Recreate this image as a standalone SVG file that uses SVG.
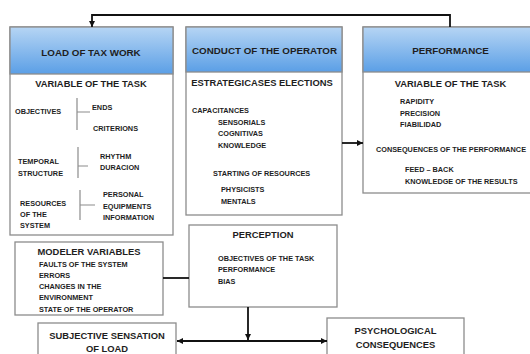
<svg xmlns="http://www.w3.org/2000/svg" width="530" height="354" viewBox="0 0 530 354">
<defs>
<linearGradient id="hdr" x1="0" y1="0" x2="0" y2="1">
<stop offset="0" stop-color="#b6d5f4"/>
<stop offset="1" stop-color="#5b9fe6"/>
</linearGradient>
<marker id="arr" viewBox="0 0 10 10" refX="10" refY="5" markerWidth="7" markerHeight="6" markerUnits="userSpaceOnUse" orient="auto">
<path d="M0,0 L10,5 L0,10 z" fill="#111"/>
</marker>
</defs>
<style>
.box{fill:#fff;stroke:#8c8c8c;stroke-width:1.3}
.head{fill:url(#hdr);stroke:#8c8c8c;stroke-width:1.3}
text{font-family:"Liberation Sans",Arial,sans-serif;font-weight:bold;fill:#1e1e1e}
.h{font-size:9.8px;text-anchor:middle}
.t{font-size:9.4px;text-anchor:middle}
.s{font-size:7.3px}
.br{stroke:#8c8c8c;stroke-width:1.2;fill:none}
.c{stroke:#111;stroke-width:1.8;fill:none}
</style>
<rect width="530" height="354" fill="#fff"/>

<g id="load">
<rect class="box" x="10" y="27" width="163" height="208"/>
<rect class="head" x="10" y="27" width="163" height="47"/>
<text class="h" x="91" y="55.5">LOAD OF TAX WORK</text>
<text class="t" x="91" y="86.5">VARIABLE OF THE TASK</text>
<text class="s" x="15" y="113.6">OBJECTIVES</text>
<text class="s" x="92" y="109.6">ENDS</text>
<text class="s" x="93" y="130.6">CRITERIONS</text>
<text class="s" x="18" y="163.6">TEMPORAL</text>
<text class="s" x="18" y="175.6">STRUCTURE</text>
<text class="s" x="100" y="158.6">RHYTHM</text>
<text class="s" x="100" y="169.6">DURACION</text>
<text class="s" x="20" y="205.6">RESOURCES</text>
<text class="s" x="20" y="216.6">OF THE</text>
<text class="s" x="20" y="227.6">SYSTEM</text>
<text class="s" x="103" y="196.6">PERSONAL</text>
<text class="s" x="103" y="208.6">EQUIPMENTS</text>
<text class="s" x="103" y="219.6">INFORMATION</text>
<path class="br" d="M77,98 V130 M77,112 H90 M78,147 V178 M78,166 H88 M80,190 V220 M80,205 H95"/>
</g>

<g id="conduct">
<rect class="box" x="186" y="27" width="156" height="188"/>
<rect class="head" x="186" y="27" width="156" height="45"/>
<text class="h" x="264.5" y="53.5">CONDUCT OF THE OPERATOR</text>
<text class="t" x="262" y="85.5">ESTRATEGICASES ELECTIONS</text>
<text class="s" x="192" y="112.6">CAPACITANCES</text>
<text class="s" x="218" y="124.6">SENSORIALS</text>
<text class="s" x="218" y="135.6">COGNITIVAS</text>
<text class="s" x="218" y="147.6">KNOWLEDGE</text>
<text class="s" x="213" y="175.6">STARTING OF RESOURCES</text>
<text class="s" x="221" y="191.6">PHYSICISTS</text>
<text class="s" x="221" y="203.6">MENTALS</text>
</g>

<g id="performance">
<rect class="box" x="363" y="27" width="172" height="166"/>
<rect class="head" x="363" y="27" width="172" height="45"/>
<text class="h" x="450.5" y="53.5">PERFORMANCE</text>
<text class="t" x="450.5" y="86.5">VARIABLE OF THE TASK</text>
<text class="s" x="400" y="103.6">RAPIDITY</text>
<text class="s" x="400" y="115.6">PRECISION</text>
<text class="s" x="400" y="126.6">FIABILIDAD</text>
<text class="s" x="376" y="151.6">CONSEQUENCES OF THE PERFORMANCE</text>
<text class="s" x="405" y="171.6">FEED – BACK</text>
<text class="s" x="405" y="183.6">KNOWLEDGE OF THE RESULTS</text>
</g>

<g id="modeler">
<rect class="box" x="15" y="242" width="148" height="73"/>
<text class="t" x="89" y="254.5">MODELER VARIABLES</text>
<text class="s" x="39" y="266.6">FAULTS OF THE SYSTEM</text>
<text class="s" x="39" y="277.6">ERRORS</text>
<text class="s" x="39" y="288.6">CHANGES IN THE</text>
<text class="s" x="39" y="299.6">ENVIRONMENT</text>
<text class="s" x="39" y="311.6">STATE OF THE OPERATOR</text>
</g>

<g id="perception">
<rect class="box" x="189" y="225" width="148" height="82"/>
<text class="t" x="263" y="238">PERCEPTION</text>
<text class="s" x="218" y="260.6">OBJECTIVES OF THE TASK</text>
<text class="s" x="218" y="271.6">PERFORMANCE</text>
<text class="s" x="218" y="283.6">BIAS</text>
</g>

<g id="subjective">
<rect class="box" x="38" y="323" width="138" height="40"/>
<text class="t" x="107" y="338.5">SUBJECTIVE SENSATION</text>
<text class="t" x="107" y="351.5">OF LOAD</text>
</g>

<g id="psychological">
<rect class="box" x="327" y="318" width="137" height="45"/>
<text class="t" x="395.5" y="333.5">PSYCHOLOGICAL</text>
<text class="t" x="395.5" y="347.5">CONSEQUENCES</text>
</g>

<g id="connectors">
<path class="c" d="M450,27 V15 H92 V27" marker-end="url(#arr)" stroke-width="1.5"/>
<path class="c" d="M342,143 H363" marker-end="url(#arr)"/>
<path class="c" d="M163,278 H189"/>
<path class="c" d="M248,307 V340" marker-end="url(#arr)"/>
<path class="c" d="M248,341 H177" marker-end="url(#arr)"/>
<path class="c" d="M248,341 H327" marker-end="url(#arr)"/>
</g>
</svg>
